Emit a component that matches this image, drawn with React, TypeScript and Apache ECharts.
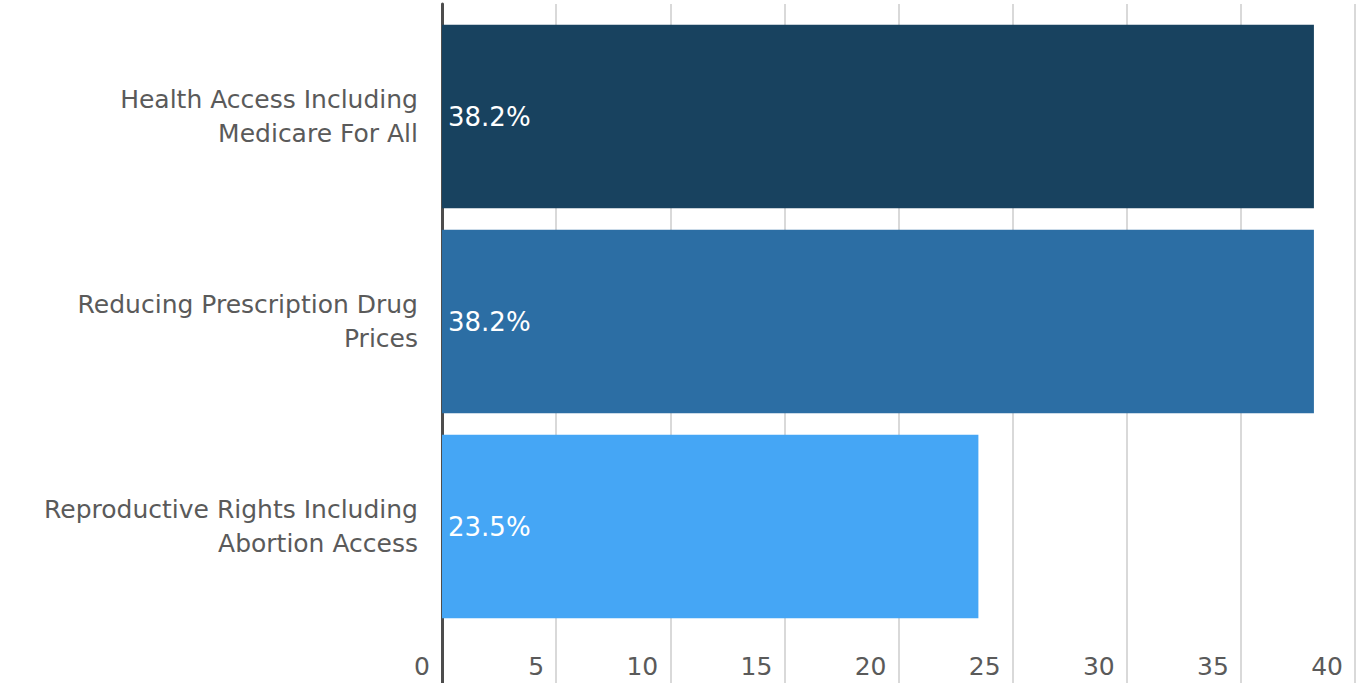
import React, { useEffect, useRef } from "react";
import * as echarts from "echarts";

const categories = [
  "Health Access Including\nMedicare For All",
  "Reducing Prescription Drug\nPrices",
  "Reproductive Rights Including\nAbortion Access",
];
const values = [38.2, 38.2, 23.5];
const barColors = ["#18425f", "#2c6ea4", "#45a6f5"];
const xMin = 0;
const xMax = 40;
const xInterval = 5;

const FONT = "'DejaVu Sans', sans-serif";

export default function App() {
  const ref = useRef<HTMLDivElement>(null);
  useEffect(() => {
    if (!ref.current) return;
    const chart = echarts.init(ref.current, undefined, { renderer: "svg" });
    chart.setOption({
      animation: false,
      backgroundColor: "#ffffff",
      grid: [
        { left: 442, width: 913, top: 4, bottom: 0 },
        { left: 442, width: 913, top: 14, height: 615 },
      ],
      xAxis: [
        {
          gridIndex: 0,
          type: "value",
          min: xMin,
          max: xMax,
          interval: xInterval,
          axisLabel: { show: false },
          axisLine: { show: false },
          axisTick: { show: false },
          splitLine: { show: true, lineStyle: { color: "#d9d9d9", width: 2 } },
        },
        {
          gridIndex: 1,
          type: "value",
          min: xMin,
          max: xMax,
          interval: xInterval,
          axisLine: { show: false },
          axisTick: { show: false },
          splitLine: { show: false },
          axisLabel: {
            show: true,
            color: "#5a5a5a",
            fontFamily: FONT,
            fontSize: 25,
            align: "right",
            padding: [0, 12, 0, 0],
            margin: 25,
          },
        },
      ],
      yAxis: [
        {
          gridIndex: 0,
          type: "value",
          min: 0,
          max: 1,
          axisLabel: { show: false },
          axisTick: { show: false },
          splitLine: { show: false },
          axisLine: { show: true, lineStyle: { color: "#4d4d4d", width: 3 } },
        },
        {
          gridIndex: 1,
          type: "category",
          inverse: true,
          data: categories,
          axisLine: { show: false },
          axisTick: { show: false },
          splitLine: { show: false },
          axisLabel: {
            color: "#5a5a5a",
            fontFamily: FONT,
            fontSize: 25,
            lineHeight: 34,
            align: "right",
            margin: 24,
          },
        },
      ],
      series: [
        {
          type: "bar",
          xAxisIndex: 1,
          yAxisIndex: 1,
          barCategoryGap: "10.5%",
          data: values.map((v, i) => ({ value: v, itemStyle: { color: barColors[i] } })),
          label: {
            show: true,
            position: "insideLeft",
            distance: 6,
            formatter: "{c}%",
            color: "#ffffff",
            fontFamily: FONT,
            fontSize: 26,
          },
        },
      ],
    });
    return () => chart.dispose();
  }, []);
  return (
    <div
      ref={ref}
      style={{ position: "absolute", left: 0, top: 0, width: 1356, height: 683 }}
    />
  );
}
